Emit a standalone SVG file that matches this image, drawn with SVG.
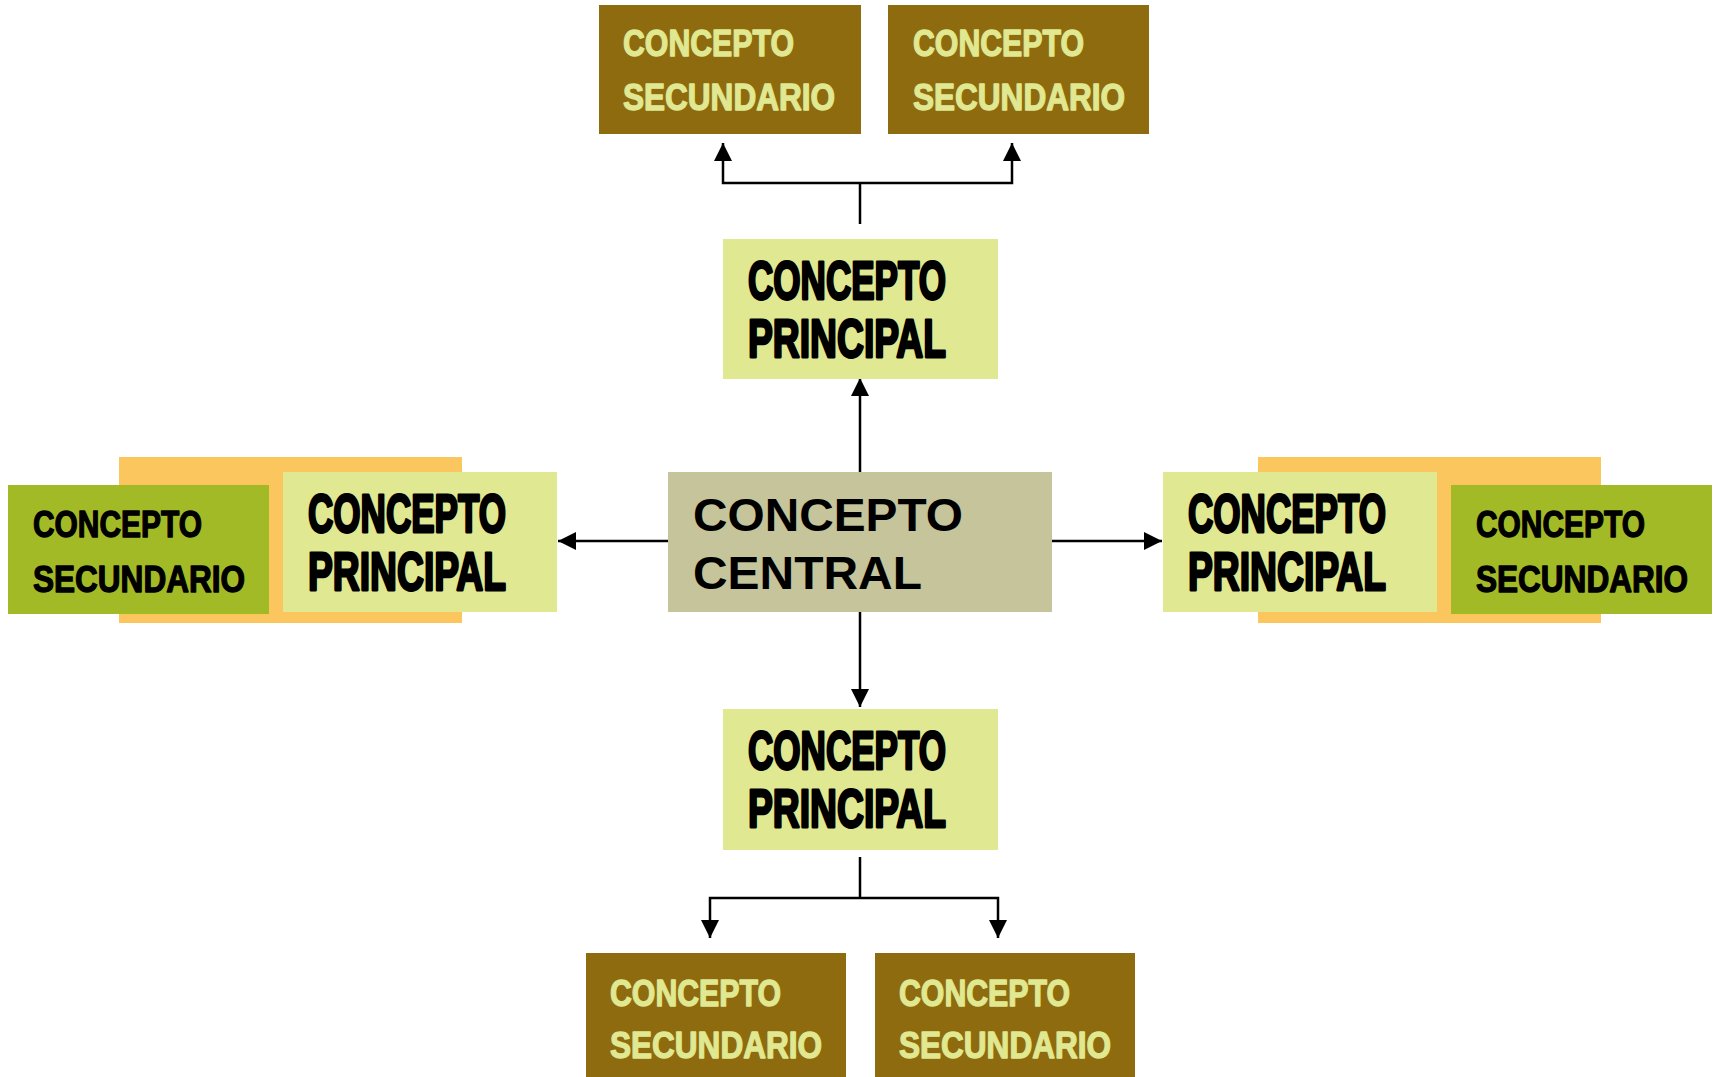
<svg xmlns="http://www.w3.org/2000/svg" width="1719" height="1077" viewBox="0 0 1719 1077">
<style>
.sec{fill:#8F6B0F}
.secg{fill:#A3BA27}
.pri{fill:#E0E891}
.cen{fill:#C6C49A}
.halo{fill:#FCC65E}
.ts{font-family:"Liberation Sans",Arial,sans-serif;font-weight:bold;font-size:36px;fill:#E0E891;stroke:#E0E891;stroke-width:1.3px;stroke-linejoin:round}
.tsg{font-family:"Liberation Sans",Arial,sans-serif;font-weight:bold;font-size:36px;fill:#000;stroke:#000;stroke-width:1.3px;stroke-linejoin:round}
.tp{font-family:"Liberation Sans",Arial,sans-serif;font-weight:bold;font-size:54px;fill:#000;stroke:#000;stroke-width:2.8px;stroke-linejoin:round}
.tc{font-family:"Liberation Sans",Arial,sans-serif;font-weight:bold;font-size:47px;fill:#000}
.con{fill:none;stroke:#000;stroke-width:2.5;marker-end:url(#arr)}
.con0{fill:none;stroke:#000;stroke-width:2.5}
</style>
<defs>
<marker id="arr" viewBox="0 0 18 18" refX="18" refY="9" markerWidth="18" markerHeight="18" markerUnits="userSpaceOnUse" orient="auto">
<path d="M0,0 L18,9 L0,18 z" fill="#000"/>
</marker>
</defs>
<rect width="1719" height="1077" fill="#fff"/>

<g id="connectors">
<path class="con" d="M860 472 V378"/>
<path class="con" d="M668 541 H558"/>
<path class="con" d="M1052 541 H1162"/>
<path class="con" d="M860 612 V707"/>
<path class="con0" d="M860 224 V183"/>
<path class="con" d="M860 183 H723 V143"/>
<path class="con" d="M860 183 H1012 V143"/>
<path class="con0" d="M860 857 V898"/>
<path class="con" d="M860 898 H710 V938"/>
<path class="con" d="M860 898 H998 V938"/>
</g>

<g id="halo-left"><rect class="halo" x="119" y="457" width="343" height="166"/></g>
<g id="halo-right"><rect class="halo" x="1258" y="457" width="343" height="166"/></g>

<g id="central">
<rect class="cen" x="668" y="472" width="384" height="140"/>
<text class="tc" x="693" y="531" textLength="270" lengthAdjust="spacingAndGlyphs">CONCEPTO</text>
<text class="tc" x="693" y="589" textLength="229" lengthAdjust="spacingAndGlyphs">CENTRAL</text>
</g>

<g id="principal-top">
<rect class="pri" x="723" y="239" width="275" height="140"/>
<text class="tp" x="748" y="299" textLength="198" lengthAdjust="spacingAndGlyphs">CONCEPTO</text>
<text class="tp" x="748" y="357" textLength="198" lengthAdjust="spacingAndGlyphs">PRINCIPAL</text>
</g>

<g id="principal-left">
<rect class="pri" x="283" y="472" width="274" height="140"/>
<text class="tp" x="308" y="532" textLength="198" lengthAdjust="spacingAndGlyphs">CONCEPTO</text>
<text class="tp" x="308" y="590" textLength="198" lengthAdjust="spacingAndGlyphs">PRINCIPAL</text>
</g>

<g id="principal-right">
<rect class="pri" x="1163" y="472" width="274" height="140"/>
<text class="tp" x="1188" y="532" textLength="198" lengthAdjust="spacingAndGlyphs">CONCEPTO</text>
<text class="tp" x="1188" y="590" textLength="198" lengthAdjust="spacingAndGlyphs">PRINCIPAL</text>
</g>

<g id="principal-bottom">
<rect class="pri" x="723" y="709" width="275" height="141"/>
<text class="tp" x="748" y="769" textLength="198" lengthAdjust="spacingAndGlyphs">CONCEPTO</text>
<text class="tp" x="748" y="827" textLength="198" lengthAdjust="spacingAndGlyphs">PRINCIPAL</text>
</g>

<g id="secondary-left">
<rect class="secg" x="8" y="485" width="261" height="129"/>
<text class="tsg" x="33" y="537" textLength="169" lengthAdjust="spacingAndGlyphs">CONCEPTO</text>
<text class="tsg" x="33" y="592" textLength="212" lengthAdjust="spacingAndGlyphs">SECUNDARIO</text>
</g>

<g id="secondary-right">
<rect class="secg" x="1451" y="485" width="261" height="129"/>
<text class="tsg" x="1476" y="537" textLength="169" lengthAdjust="spacingAndGlyphs">CONCEPTO</text>
<text class="tsg" x="1476" y="592" textLength="212" lengthAdjust="spacingAndGlyphs">SECUNDARIO</text>
</g>

<g id="secondary-top-left">
<rect class="sec" x="599" y="5" width="262" height="129"/>
<text class="ts" x="623" y="56" textLength="171" lengthAdjust="spacingAndGlyphs">CONCEPTO</text>
<text class="ts" x="623" y="110" textLength="212" lengthAdjust="spacingAndGlyphs">SECUNDARIO</text>
</g>

<g id="secondary-top-right">
<rect class="sec" x="888" y="5" width="261" height="129"/>
<text class="ts" x="913" y="56" textLength="171" lengthAdjust="spacingAndGlyphs">CONCEPTO</text>
<text class="ts" x="913" y="110" textLength="212" lengthAdjust="spacingAndGlyphs">SECUNDARIO</text>
</g>

<g id="secondary-bottom-left">
<rect class="sec" x="586" y="953" width="260" height="124"/>
<text class="ts" x="610" y="1006" textLength="171" lengthAdjust="spacingAndGlyphs">CONCEPTO</text>
<text class="ts" x="610" y="1058" textLength="212" lengthAdjust="spacingAndGlyphs">SECUNDARIO</text>
</g>

<g id="secondary-bottom-right">
<rect class="sec" x="875" y="953" width="260" height="124"/>
<text class="ts" x="899" y="1006" textLength="171" lengthAdjust="spacingAndGlyphs">CONCEPTO</text>
<text class="ts" x="899" y="1058" textLength="212" lengthAdjust="spacingAndGlyphs">SECUNDARIO</text>
</g>
</svg>
